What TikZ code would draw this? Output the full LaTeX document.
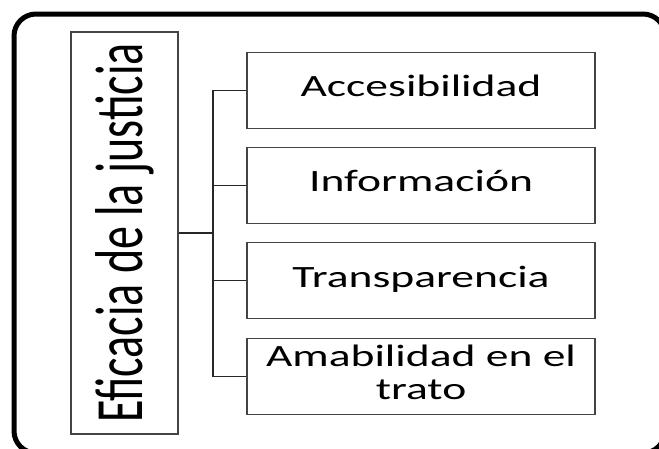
\documentclass[tikz,border=0pt]{standalone}
\usepackage{fontspec}
\setmainfont{Carlito}
\usepackage{graphicx}
\definecolor{boxline}{HTML}{444444}
\newcommand{\hstretch}[1]{\scalebox{1.47}[1]{\fontsize{31}{33}\selectfont\begin{tabular}{@{}c@{}}#1\end{tabular}}}
\begin{document}
\begin{tikzpicture}[x=1pt,y=-1pt,
  childbox/.style={draw=boxline,line width=1.2pt,minimum width=348pt,minimum height=76pt,inner sep=0pt},
  mainbox/.style={draw=boxline,line width=1.2pt,minimum width=107pt,minimum height=402pt,inner sep=0pt},
  conn/.style={draw=black!85,line width=1.1pt}]
\useasboundingbox (0,0) rectangle (659,448);
\clip (0,0) rectangle (659,448);
\draw[line width=5pt,rounded corners=22pt] (14,14) rectangle (665,453);
\node[mainbox] (main) at (124.5,233) {};
\node[rotate=90] (maintext) at (124.5,233) {\scalebox{1}[1.47]{\fontsize{46}{50}\selectfont Eficacia de la justicia}};
\node[childbox] (c1) at (421,90.3) {\hstretch{Accesibilidad}};
\node[childbox] (c2) at (421,185.3) {\hstretch{Información}};
\node[childbox] (c3) at (421,280.8) {\hstretch{Transparencia}};
\node[childbox] (c4) at (421,376.5) {\hstretch{Amabilidad en el\\trato}};
\coordinate (bus) at (213,233);
\draw[conn] (main.east) -- (bus);
\draw[conn] (c1.west) -- (c1.west -| bus) -- (c4.west -| bus) -- (c4.west);
\draw[conn] (c2.west) -- (c2.west -| bus);
\draw[conn] (c3.west) -- (c3.west -| bus);
\end{tikzpicture}
\end{document}
